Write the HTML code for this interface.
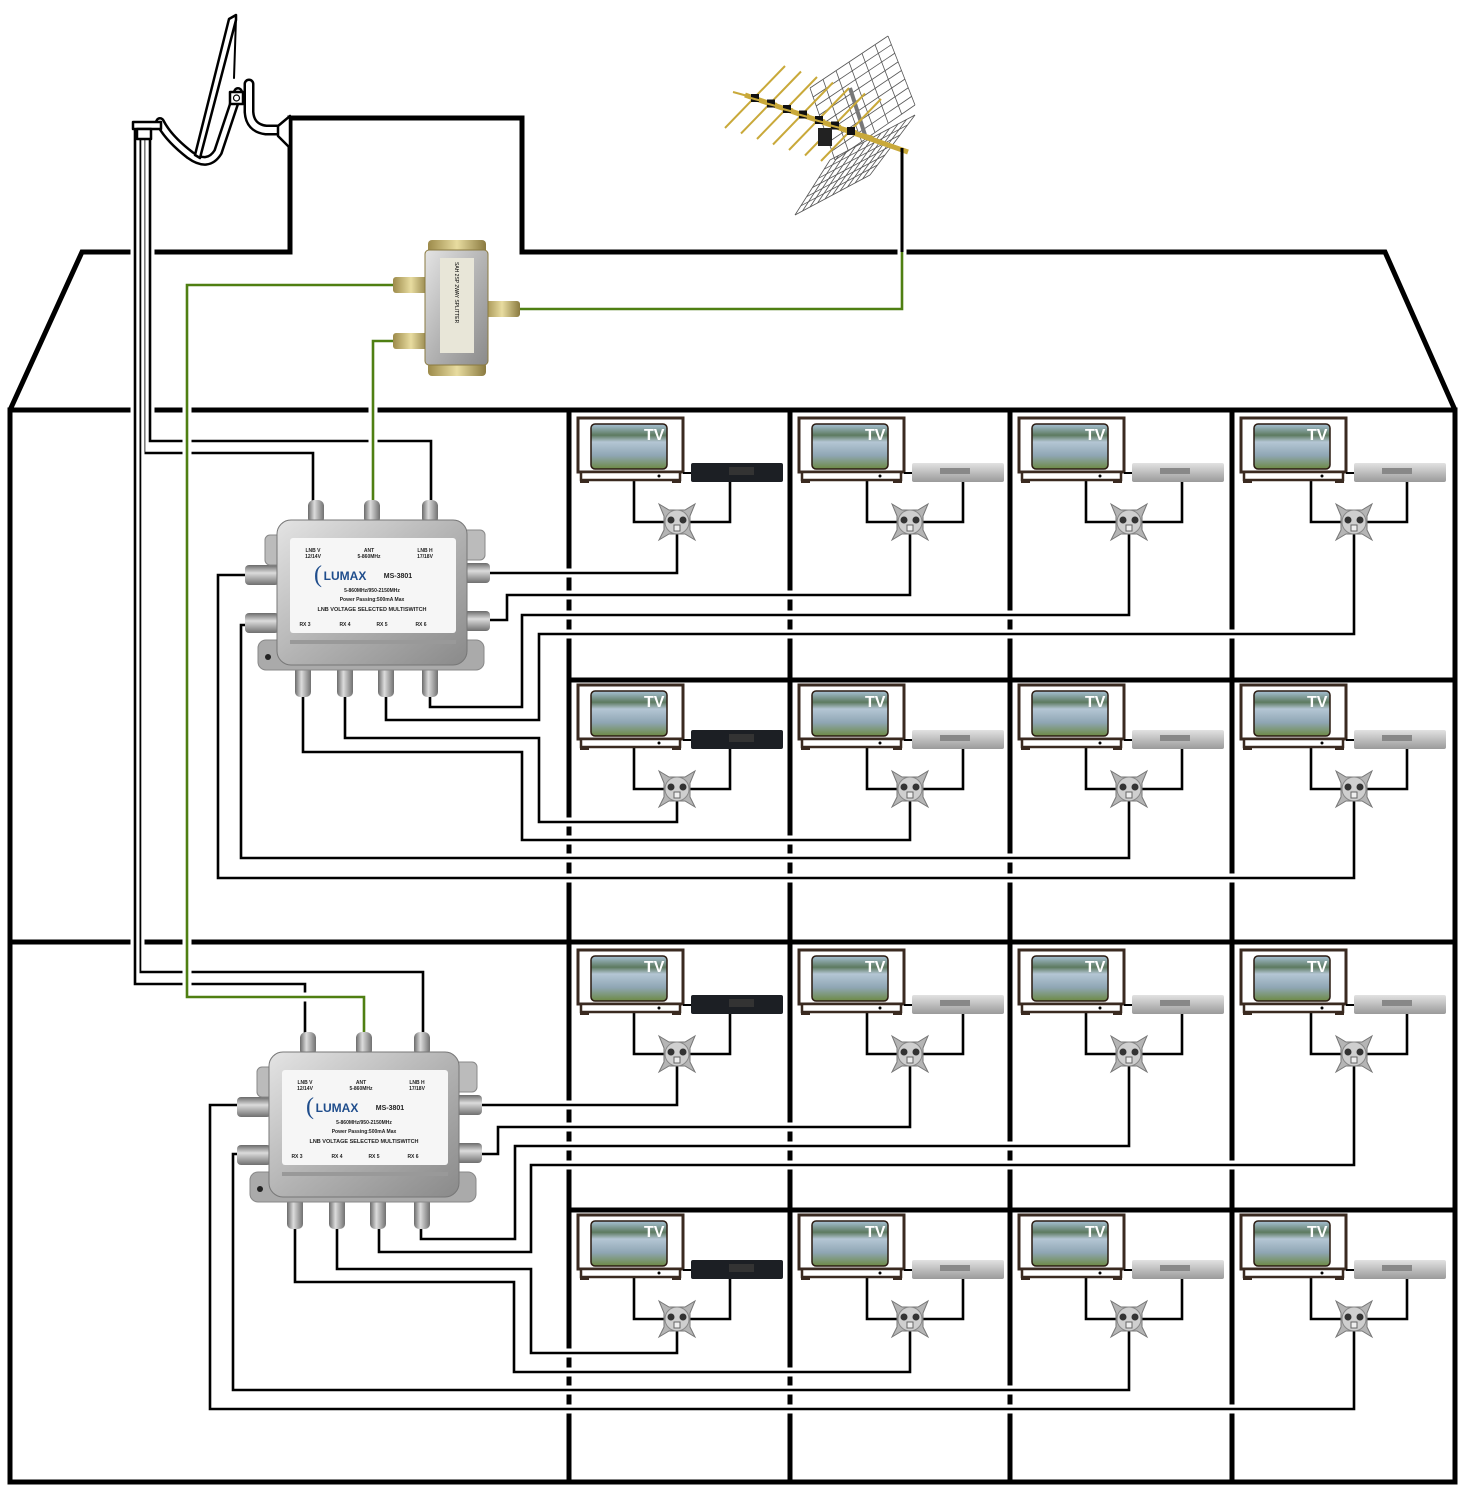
<!DOCTYPE html>
<html><head><meta charset="utf-8">
<style>html,body{margin:0;padding:0;background:#fff}svg{display:block}</style>
</head><body>
<svg id="s" xmlns="http://www.w3.org/2000/svg" width="1466" height="1503" viewBox="0 0 1466 1503" font-family="Liberation Sans, sans-serif">
<defs>
<linearGradient id="scr" x1="0" y1="0" x2="0" y2="1">
<stop offset="0" stop-color="#a8c2d6"/><stop offset="0.25" stop-color="#5d7a60"/><stop offset="0.4" stop-color="#b4c6d4"/><stop offset="0.7" stop-color="#8fa6b4"/><stop offset="1" stop-color="#6d8a44"/>
</linearGradient>
<linearGradient id="met" x1="0" y1="0" x2="1" y2="1">
<stop offset="0" stop-color="#e4e4e4"/><stop offset="0.5" stop-color="#b4b4b4"/><stop offset="1" stop-color="#8a8a8a"/>
</linearGradient>
<linearGradient id="port" x1="0" y1="0" x2="1" y2="0">
<stop offset="0" stop-color="#6a6a6a"/><stop offset="0.4" stop-color="#dcdcdc"/><stop offset="1" stop-color="#707070"/>
</linearGradient>
<linearGradient id="porth" x1="0" y1="0" x2="0" y2="1">
<stop offset="0" stop-color="#6a6a6a"/><stop offset="0.4" stop-color="#dcdcdc"/><stop offset="1" stop-color="#707070"/>
</linearGradient>
<linearGradient id="gold" x1="0" y1="0" x2="1" y2="0">
<stop offset="0" stop-color="#9c8a4a"/><stop offset="0.5" stop-color="#e8dca0"/><stop offset="1" stop-color="#8a7a40"/>
</linearGradient>
<linearGradient id="rx" x1="0" y1="0" x2="0" y2="1">
<stop offset="0" stop-color="#e2e2e2"/><stop offset="1" stop-color="#9a9a9a"/>
</linearGradient>
</defs>
<g id="walls" fill="none" stroke="#000" stroke-width="5"></g>
<g id="cab"></g>
<g id="dev"></g>
</svg>
<script>
const NS="http://www.w3.org/2000/svg";
function el(p,t,a,txt){const e=document.createElementNS(NS,t);for(const k in a)e.setAttribute(k,a[k]);if(txt!==undefined)e.textContent=txt;p.appendChild(e);return e;}
const W=document.getElementById('walls'),C=document.getElementById('cab'),D=document.getElementById('dev');
el(W,'path',{d:'M10,410 L82,252 H290 V118 H522 V252 H1385 L1455,410',"stroke-linejoin":"miter"});
el(W,'rect',{x:10,y:410,width:1445,height:1072});
el(W,'line',{x1:10,y1:942,x2:1455,y2:942});
el(W,'line',{x1:569,y1:680,x2:1455,y2:680});
el(W,'line',{x1:569,y1:1210,x2:1455,y2:1210});
[569,790,1010,1232].forEach(x=>el(W,'line',{x1:x,y1:410,x2:x,y2:1482}));

function cable(pts,col,w){
  const d='M'+pts.map(p=>p.join(',')).join(' L');
  el(C,'path',{d:d,fill:'none',stroke:'#fff','stroke-width':9});
  el(C,'path',{d:d,fill:'none',stroke:col||'#000','stroke-width':w||2.6});
}
const G='#4f7f12';
cable([[150,130],[150,441],[431,441],[431,505]]);
cable([[144,130],[144,453],[313,453],[313,505]]);
cable([[140,130],[140,972],[423,972],[423,1038]]);
cable([[135,130],[135,984],[305,984],[305,1038]]);
cable([[395,285],[187,285],[187,997],[364,997],[364,1038]],G);
cable([[395,341],[373,341],[373,505]],G);
cable([[520,309],[902,309],[902,150]],G);
cable([[677,521],[677,573],[488,573]]);
cable([[910,521],[910,595],[507,595],[507,620],[488,620]]);
cable([[1129,521],[1129,615],[522,615],[522,707],[430,707],[430,690]]);
cable([[1354,521],[1354,634],[539,634],[539,720],[386,720],[386,690]]);
cable([[677,788],[677,822],[539,822],[539,738],[345,738],[345,690]]);
cable([[910,788],[910,840],[522,840],[522,752],[303,752],[303,690]]);
cable([[1129,788],[1129,858],[241,858],[241,625],[262,625]]);
cable([[1354,788],[1354,878],[218,878],[218,575],[262,575]]);
cable([[677,1050],[677,1105],[480,1105]]);
cable([[910,1050],[910,1127],[498,1127],[498,1154],[480,1154]]);
cable([[1129,1050],[1129,1146],[515,1146],[515,1239],[421,1239],[421,1222]]);
cable([[1354,1050],[1354,1165],[531,1165],[531,1252],[379,1252],[379,1222]]);
cable([[677,1318],[677,1353],[531,1353],[531,1269],[337,1269],[337,1222]]);
cable([[910,1318],[910,1372],[514,1372],[514,1282],[295,1282],[295,1222]]);
cable([[1129,1318],[1129,1390],[233,1390],[233,1154],[255,1154]]);
cable([[1354,1318],[1354,1409],[210,1409],[210,1105],[255,1105]]);

const ox=[677,910,1129,1354],cl=[569,790,1010,1232],rows=[413,680,945,1210];
rows.forEach(y0=>{cl.forEach((x0,i)=>{
  const g=el(D,'g',{transform:`translate(${x0},${y0})`});
  const o=ox[i]-x0;
  el(g,'path',{d:`M${o-43},64 V109 H${o} M${o+53},60 V109 H${o}`,fill:'none',stroke:'#000','stroke-width':2.6});
  el(g,'rect',{x:9,y:5,width:105,height:54,fill:'#fff',stroke:'#3a2a20','stroke-width':3});
  el(g,'rect',{x:22,y:11,width:76,height:45,rx:4,fill:'url(#scr)',stroke:'#2a1a10','stroke-width':1.5});
  el(g,'rect',{x:12,y:59,width:99,height:8,fill:'#fff',stroke:'#3a2a20','stroke-width':2.5});
  el(g,'rect',{x:11,y:66,width:9,height:4,fill:'#3a2a20'});el(g,'rect',{x:103,y:66,width:9,height:4,fill:'#3a2a20'});
  el(g,'circle',{cx:90,cy:63,r:1.5,fill:'#000'});
  el(g,'text',{x:75,y:27,fill:'#fff','font-weight':'bold','font-size':16},'TV');
  el(g,'line',{x1:114,y1:60,x2:122,y2:60,stroke:'#000','stroke-width':2});
  if(i==0){el(g,'rect',{x:122,y:50,width:92,height:19,rx:2,fill:'#1c1f24'});el(g,'rect',{x:160,y:54,width:25,height:8,fill:'#333'});}
  else{el(g,'rect',{x:122,y:50,width:92,height:19,rx:2,fill:'url(#rx)'});el(g,'rect',{x:150,y:55,width:30,height:6,fill:'#888'});}
  const q=el(g,'g',{transform:`translate(${o},109)`});
  el(q,'path',{d:'M-18,-18 L-8,-12 L8,-12 L18,-18 L13,-6 L13,8 L18,18 L8,12 L-8,12 L-18,18 L-13,8 L-13,-6 Z',fill:'#b5b5b5',stroke:'#777','stroke-width':1});
  el(q,'circle',{cx:0,cy:0,r:12,fill:'#cfcfcf',stroke:'#888'});
  el(q,'circle',{cx:-6,cy:-2,r:3.5,fill:'#333'});el(q,'circle',{cx:6,cy:-2,r:3.5,fill:'#333'});
  el(q,'rect',{x:-3,y:3,width:6,height:6,fill:'#eee',stroke:'#666'});
});});

function ms(tx,ty){
  const g=el(D,'g',{transform:`translate(${tx},${ty})`});
  [316,372,430].forEach(x=>el(g,'rect',{x:x-8,y:500,width:16,height:24,rx:6,fill:'url(#port)'}));
  [303,345,386,430].forEach(x=>el(g,'rect',{x:x-8,y:660,width:16,height:37,rx:5,fill:'url(#port)'}));
  [[245,565],[245,613]].forEach(p=>el(g,'rect',{x:p[0],y:p[1],width:34,height:20,rx:4,fill:'url(#porth)'}));
  [[456,563],[456,611]].forEach(p=>el(g,'rect',{x:p[0],y:p[1],width:34,height:20,rx:4,fill:'url(#porth)'}));
  el(g,'rect',{x:258,y:640,width:226,height:30,rx:8,fill:'#aaa',stroke:'#888'});
  el(g,'rect',{x:265,y:535,width:20,height:30,rx:5,fill:'#bbb',stroke:'#888'});
  el(g,'rect',{x:460,y:530,width:25,height:30,rx:5,fill:'#bbb',stroke:'#888'});
  el(g,'rect',{x:277,y:520,width:190,height:145,rx:14,fill:'url(#met)',stroke:'#777'});
  el(g,'rect',{x:290,y:538,width:166,height:95,rx:3,fill:'#f6f6f6'});
  el(g,'circle',{cx:268,cy:657,r:3,fill:'#222'});
  const t=(x,y,s,txt,w,c)=>el(g,'text',{x:x,y:y,'font-size':s,'text-anchor':'middle','font-weight':w||'bold',fill:c||'#222'},txt);
  t(313,552,5,'LNB V');t(313,558,5,'12/14V');t(369,552,5,'ANT');t(369,558,5,'5-860MHz');t(425,552,5,'LNB H');t(425,558,5,'17/18V');
  el(g,'text',{x:314,y:582,'font-size':24,fill:'#1f4d8c','font-family':'Liberation Serif, serif'},'(');
  t(345,580,12,'LUMAX','bold','#1f4d8c');t(398,578,7,'MS-3801');
  t(372,592,5,'5-860MHz/950-2150MHz');t(372,601,5,'Power Passing:500mA Max');t(372,611,5.5,'LNB VOLTAGE SELECTED MULTISWITCH');
  t(305,626,5,'RX 3');t(345,626,5,'RX 4');t(382,626,5,'RX 5');t(421,626,5,'RX 6');
  el(g,'rect',{x:290,y:640,width:166,height:4,fill:'#999'});
}
ms(0,0);ms(-8,532);

(function(){
  const g=el(D,'g',{});
  el(g,'rect',{x:428,y:240,width:58,height:14,rx:4,fill:'url(#gold)'});
  el(g,'rect',{x:428,y:362,width:58,height:14,rx:4,fill:'url(#gold)'});
  el(g,'rect',{x:393,y:277,width:36,height:16,rx:3,fill:'url(#gold)'});
  el(g,'rect',{x:393,y:333,width:36,height:16,rx:3,fill:'url(#gold)'});
  el(g,'rect',{x:484,y:301,width:36,height:16,rx:3,fill:'url(#gold)'});
  el(g,'rect',{x:425,y:250,width:63,height:115,rx:4,fill:'url(#met)',stroke:'#8a7a40'});
  el(g,'rect',{x:440,y:258,width:34,height:95,fill:'#e8e6d8'});
  el(g,'text',{x:455,y:262,'font-size':5,transform:'rotate(90 455 262)'},'SAH 2SP 2WAY SPLITTER');
})();

// dish
(function(){
  const g=el(D,'g',{'stroke-linejoin':'round','stroke-linecap':'round'});
  const tube=(d,w)=>{el(g,'path',{d:d,fill:'none',stroke:'#000','stroke-width':w+5});el(g,'path',{d:d,fill:'none',stroke:'#fff','stroke-width':w});};
  tube('M249,84 V112 Q250,128 266,130 H280',6);
  el(g,'path',{d:'M278,126 L290,116 L290,148 L278,136 Z',fill:'#fff',stroke:'#000','stroke-width':2.5});
  tube('M160,122 Q168,138 190,155 Q208,168 218,152 L238,92',5);
  el(g,'path',{d:'M236,15 L229,19 L195,155 L200,158 L236,20 Z',fill:'#fff',stroke:'#000','stroke-width':2.5});
  el(g,'line',{x1:236,y1:18,x2:234,y2:78,stroke:'#000','stroke-width':2});
  el(g,'rect',{x:230,y:92,width:13,height:12,fill:'#fff',stroke:'#000','stroke-width':2.5});
  el(g,'circle',{cx:236.5,cy:98,r:3,fill:'none',stroke:'#000','stroke-width':1.2});
  el(g,'rect',{x:133,y:122,width:28,height:7,fill:'#fff',stroke:'#000','stroke-width':2.5});
  el(g,'rect',{x:137,y:129,width:14,height:10,fill:'#fff',stroke:'#000','stroke-width':2.5});
})();

(function(){
  const g=el(D,'g',{});
  const grid=(pts,n,m)=>{
    const [a,b,c,d]=pts;
    for(let i=0;i<=n;i++){const t=i/n;el(g,'line',{x1:a[0]+(b[0]-a[0])*t,y1:a[1]+(b[1]-a[1])*t,x2:d[0]+(c[0]-d[0])*t,y2:d[1]+(c[1]-d[1])*t,stroke:'#555','stroke-width':0.8});}
    for(let j=0;j<=m;j++){const t=j/m;el(g,'line',{x1:a[0]+(d[0]-a[0])*t,y1:a[1]+(d[1]-a[1])*t,x2:b[0]+(c[0]-b[0])*t,y2:b[1]+(c[1]-b[1])*t,stroke:'#555','stroke-width':0.8});}
  };
  grid([[810,88],[888,36],[915,105],[835,160]],6,8);
  grid([[795,215],[830,160],[915,115],[870,175]],6,10);
  el(g,'line',{x1:850,y1:88,x2:865,y2:135,stroke:'#777','stroke-width':4});
  el(g,'line',{x1:745,y1:95,x2:908,y2:152,stroke:'#c9a93a','stroke-width':5});
  for(let i=0;i<7;i++){const x=755+i*16,y=98+i*5.5;
    el(g,'line',{x1:x-30,y1:y+30,x2:x+30,y2:y-32,stroke:'#c9a93a','stroke-width':2});
    el(g,'line',{x1:x-22,y1:y-6,x2:x+22,y2:y+6,stroke:'#c9a93a','stroke-width':2});
    el(g,'rect',{x:x-4,y:y-4,width:8,height:8,fill:'#111'});}
  el(g,'rect',{x:818,y:128,width:14,height:18,fill:'#222'});
  el(g,'line',{x1:902,y1:148,x2:902,y2:252,stroke:'#000','stroke-width':3});
})();
</script>
</body></html>
